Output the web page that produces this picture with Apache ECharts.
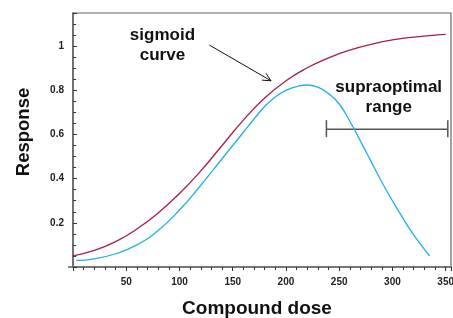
<!DOCTYPE html>
<html><head><meta charset="utf-8">
<script src="https://cdn.jsdelivr.net/npm/echarts@6/dist/echarts.min.js"></script>
<style>html,body{margin:0;padding:0;background:#fff}#c{width:453px;height:318px}</style>
</head><body><div id="c"></div>
<script>
const doseSigmoid = [0,20,40,60,80,100,120,140,160,180,200,220,240,260,280,300,320,340,350];
const respSigmoid = [0.05,0.075,0.115,0.172,0.245,0.333,0.435,0.55,0.665,0.765,0.843,0.902,0.947,0.982,1.008,1.028,1.041,1.05,1.053];
const doseSupra = [3,20,40,60,80,100,120,140,160,170,180,190,200,210,220,230,240,250,260,270,280,290,300,310,320,330,335];
const respSupra = [0.03,0.037,0.06,0.1,0.165,0.258,0.37,0.49,0.61,0.67,0.727,0.77,0.8,0.817,0.824,0.814,0.785,0.738,0.66,0.57,0.477,0.385,0.3,0.22,0.145,0.08,0.05];
const xTickLabels = [50,100,150,200,250,300,350];
const yTickLabels = [0.2,0.4,0.6,0.8,1];
const bracketRange = [238, 352];
const bracketLevel = 0.624;
const arrowFrom = [128, 1.005];
const arrowTo = [186, 0.843];
const sigmoidLabelAt = [84, 1.005];
const supraLabelAt = [296.5, 0.77];

const FONT = '"Liberation Sans", Arial, Helvetica, sans-serif';
const AX = '#666';
const chart = echarts.init(document.getElementById('c'), null, {renderer:'canvas'});
chart.setOption({
  animation:false,
  backgroundColor:'#fff',
  grid:{left:73, top:13, right:2, bottom:51, show:true, borderColor:AX, borderWidth:1.2,
        containLabel:false, outerBoundsMode:'none'},
  xAxis:{
    type:'value', min:0, max:355, interval:50,
    name:'Compound dose', nameLocation:'middle', nameGap:32,
    nameTextStyle:{fontFamily:FONT, fontWeight:'bold', fontSize:19, color:'#111', padding:[0,10,0,0]},
    axisLine:{show:true, lineStyle:{color:AX, width:1.6}},
    axisTick:{show:true, inside:false, length:4, lineStyle:{color:'#333', width:1}},
    minorTick:{show:true, splitNumber:5, length:3, lineStyle:{color:'#333', width:1}},
    splitLine:{show:false},
    axisLabel:{margin:10, fontFamily:FONT, fontWeight:'bold', fontSize:10, color:'#222',
      showMinLabel:false, showMaxLabel:true, hideOverlap:false,
      formatter:v=>xTickLabels.includes(Math.round(v))&&Math.abs(v-Math.round(v))<1e-6?String(Math.round(v)):''}
  },
  yAxis:{
    type:'value', min:0, max:1.15, interval:0.2,
    name:'Response', nameLocation:'middle', nameGap:40, nameRotate:90,
    nameTextStyle:{fontFamily:FONT, fontWeight:'bold', fontSize:18.5, color:'#111', padding:[0,0,0,16]},
    axisLine:{show:true, lineStyle:{color:AX, width:1.6}},
    axisTick:{show:true, inside:true, length:4, lineStyle:{color:'#333', width:1}},
    minorTick:{show:true, splitNumber:4, length:3, lineStyle:{color:'#333', width:1}},
    splitLine:{show:false},
    axisLabel:{margin:9, fontFamily:FONT, fontWeight:'bold', fontSize:10, color:'#222',
      formatter:v=>{const r=Math.round(v*10)/10; return (Math.abs(v-r)<1e-6 && yTickLabels.includes(r))?String(r):'';}}
  },
  series:[
    {type:'line', data:doseSigmoid.map((d,i)=>[d,respSigmoid[i]]), smooth:0.5, showSymbol:false,
      lineStyle:{color:'#a31f4b', width:1.3}},
    {type:'line', data:doseSupra.map((d,i)=>[d,respSupra[i]]), smooth:0.5, showSymbol:false,
      lineStyle:{color:'#1fb0e8', width:1.3}}
  ]
});

function px(p){return chart.convertToPixel({gridIndex:0}, p);}
const b0 = px([bracketRange[0], bracketLevel]);
const b1 = px([bracketRange[1], bracketLevel]);
const a0 = px(arrowFrom), a1 = px(arrowTo);
const ang = Math.atan2(a1[1]-a0[1], a1[0]-a0[0]);
const hl = 9, hw = 0.45;
const h1 = [a1[0]-hl*Math.cos(ang-hw), a1[1]-hl*Math.sin(ang-hw)];
const h2 = [a1[0]-hl*Math.cos(ang+hw), a1[1]-hl*Math.sin(ang+hw)];
const sl = px(sigmoidLabelAt), su = px(supraLabelAt);
const x0 = px([0,0]);
chart.setOption({graphic:[
  {type:'line', shape:{x1:x0[0]-5, y1:x0[1], x2:x0[0], y2:x0[1]}, style:{stroke:AX, lineWidth:1.6}},
  {type:'line', shape:{x1:b0[0], y1:b0[1], x2:b1[0], y2:b1[1]}, style:{stroke:'#555', lineWidth:1.5}},
  {type:'line', shape:{x1:b0[0], y1:b0[1]-9, x2:b0[0], y2:b0[1]+8}, style:{stroke:'#555', lineWidth:1.5}},
  {type:'line', shape:{x1:b1[0], y1:b1[1]-9, x2:b1[0], y2:b1[1]+8}, style:{stroke:'#555', lineWidth:1.5}},
  {type:'line', shape:{x1:a0[0], y1:a0[1], x2:a1[0], y2:a1[1]}, style:{stroke:'#111', lineWidth:1}},
  {type:'polyline', shape:{points:[h1, a1, h2]}, style:{stroke:'#111', lineWidth:1, fill:null}},
  {type:'text', x:sl[0], y:sl[1], style:{text:'sigmoid\ncurve', font:'bold 17px '+FONT, fill:'#111',
     align:'center', verticalAlign:'middle', lineHeight:20}},
  {type:'text', x:su[0], y:su[1], style:{text:'supraoptimal\nrange', font:'bold 17px '+FONT, fill:'#111',
     align:'center', verticalAlign:'middle', lineHeight:20}}
]});
</script></body></html>
